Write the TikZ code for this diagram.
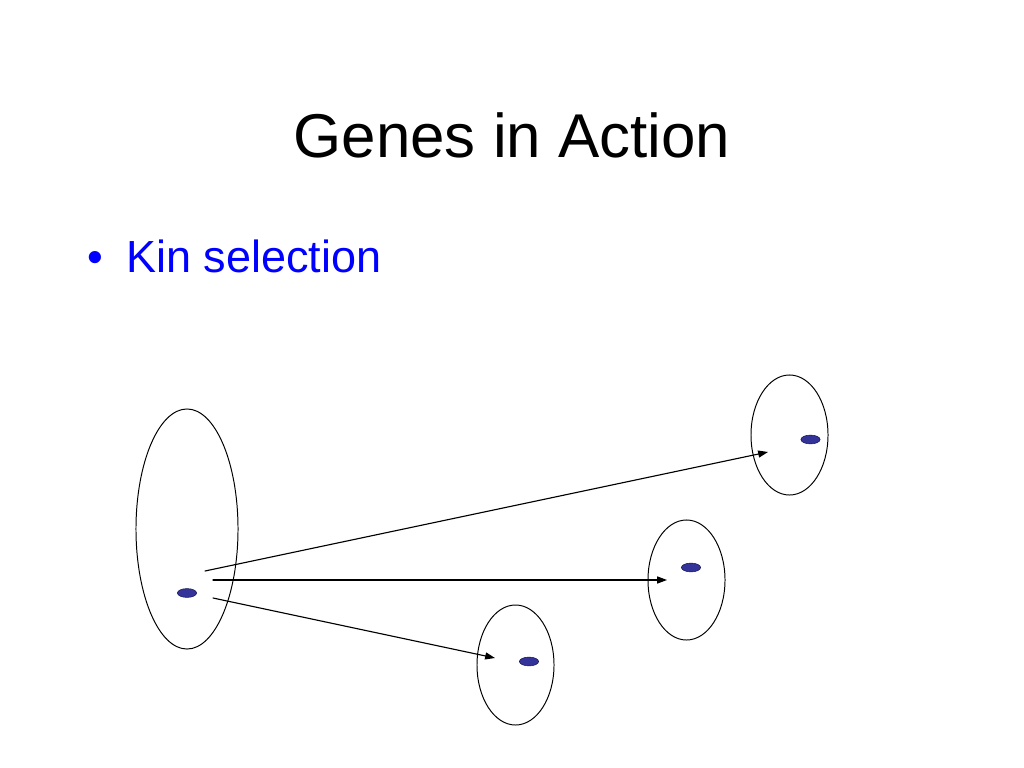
\documentclass[tikz,border=0pt]{standalone}
\usepackage{fontspec}
\setmainfont{Liberation Sans}
\usetikzlibrary{shapes.geometric,arrows.meta}
\definecolor{kinblue}{RGB}{0,0,255}
\definecolor{genefill}{RGB}{51,51,153}
\definecolor{genedraw}{RGB}{25,25,90}
\begin{document}
\begin{tikzpicture}[x=0.025cm,y=-0.025cm,line cap=round,line join=round,>={Triangle[length=7pt,width=5pt]},
	cell/.style={ellipse,draw,line width=0.7pt,inner sep=0pt},
	gene/.style={ellipse,draw=genedraw,fill=genefill,line width=0.4pt,inner sep=0pt,minimum width=0.48cm,minimum height=0.22cm}]
				\useasboundingbox (0,0) rectangle (1024,768);
				\node[anchor=base,font=\fontsize{44}{53}\selectfont] (title) at (512,157) {Genes in Action};
				\node[anchor=base,inner sep=0pt,text=kinblue,font=\fontsize{32}{38}\selectfont] (bullet) at (95,272) {\textbullet};
				\node[anchor=base west,inner sep=0pt,text=kinblue,font=\fontsize{32}{38}\selectfont] (kin) at (126,272) {Kin selection};
				\node[cell,minimum width=2.55cm,minimum height=6cm] (parent) at (187,529) {};
				\node[cell,minimum width=1.925cm,minimum height=3cm] (kinA) at (789.5,435) {};
				\node[cell,minimum width=1.925cm,minimum height=3cm] (kinB) at (686.5,580) {};
				\node[cell,minimum width=1.925cm,minimum height=3cm] (kinC) at (515.5,665) {};
				\node[gene] (g0) at (187,593) {};
				\node[gene] (gA) at (810.5,439.5) {};
				\node[gene] (gB) at (691,567.5) {};
				\node[gene] (gC) at (529,661.5) {};
				\path (205,571)coordinate(s1) (213,580)coordinate(s2) (213,598)coordinate(s3)
				(768,452)coordinate(e1) (667,580)coordinate(e2) (495,658)coordinate(e3);
				\draw[->,line width=0.8pt] (s1)--(e1);
				\draw[->,line width=0.8pt] (s2)--(e2);
				\draw[->,line width=0.8pt] (s3)--(e3);
			\end{tikzpicture}
\end{document}
